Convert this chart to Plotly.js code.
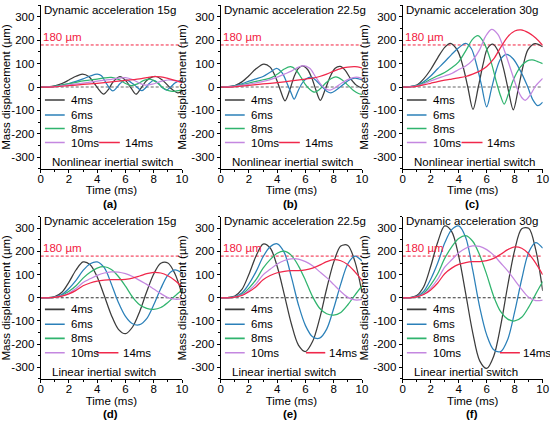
<!DOCTYPE html>
<html>
<head>
<meta charset="utf-8">
<script src="https://cdn.plot.ly/plotly-3.0.1.min.js"></script>
<style>html,body{margin:0;padding:0;background:#fff;}#chart{width:550px;height:425px;}</style>
</head>
<body>
<div id="chart"></div>
<script>
// ---------- labels ----------
const seriesNames = ['4ms', '6ms', '8ms', '10ms', '14ms'];
const panelTitles = ['Dynamic acceleration 15g', 'Dynamic acceleration 22.5g', 'Dynamic acceleration 30g',
                     'Dynamic acceleration 15g', 'Dynamic acceleration 22.5g', 'Dynamic acceleration 30g'];
const panelLetters = ['(a)', '(b)', '(c)', '(d)', '(e)', '(f)'];
const switchLabels = ['Nonlinear inertial switch', 'Nonlinear inertial switch', 'Nonlinear inertial switch',
                      'Linear inertial switch', 'Linear inertial switch', 'Linear inertial switch'];
const thresholdValue = 180;
const thresholdLabel = '180 µm';
const xTicks = [0, 2, 4, 6, 8, 10];
const yTicks = [-300, -200, -100, 0, 100, 200, 300];

// ---------- (a) nonlinear, 15g ----------
const a4_t = [0,0.5,1,1.5,2,2.5,2.95,3.4,3.8,4.1,4.45,4.8,5.1,5.6,6.05,6.4,6.75,7.1,7.5,8.15,8.7,9.2,9.7,10];
const a4_v = [0,1,5,15,30,46,55,45,15,-10,-31,-10,20,44,25,-5,-31,-5,28,45,25,-5,-25,-20];
const a6_t = [0,0.5,1,1.5,2,2.5,3,3.5,4,4.3,4.6,4.85,5.1,5.35,5.6,6.05,6.5,6.8,7.15,7.45,7.7,8.0,8.35,8.6,8.9,9.2,9.5,9.8,10];
const a6_v = [0,1,3,8,15,24,35,47,55,48,20,-3,-17,-5,14,30,15,0,-16,-2,16,28,15,-2,-13,0,17,26,25];
const a8_t = [0,0.5,1,1.5,2,2.5,3,3.5,4,4.5,5,5.5,6,6.4,6.8,7.3,7.8,8.2,8.7,9.2,9.6,10];
const a8_v = [0,0.5,3,8,14,20,26,30,34,39,41,33,15,6,12,28,33,20,-5,-18,-17,-12];
const a10_t = [0,0.5,1,1.5,2,2.5,3,3.5,4,4.5,5,5.5,6,6.5,7,7.4,7.9,8.5,9,9.5,10];
const a10_v = [0,0.5,2,5,9,13,17,21,25,29,33,38,40,32,16,8,12,24,30,27,18];
const a14_t = [0,1,2,3,4,5,6,7,7.5,8,8.5,9,9.5,10];
const a14_v = [0,1,6,11,16,22,28,35,40,44,43,37,28,20];

// ---------- (b) nonlinear, 22.5g ----------
const b4_t = [0,0.5,1,1.5,2,2.5,3.05,3.5,3.9,4.2,4.55,4.9,5.2,5.5,5.8,6.15,6.5,6.75,7.05,7.4,7.75,8.1,8.45,8.8,9.2,9.6,10];
const b4_v = [0,1,6,22,48,78,98,85,40,-10,-59,-10,45,80,91,75,30,-15,-57,-10,45,80,88,72,35,8,-5];
const b6_t = [0,0.5,1,1.5,2,2.5,3,3.5,3.96,4.35,4.7,4.95,5.2,5.45,5.75,6.05,6.4,6.8,7.2,7.5,7.8,8.2,8.7,9.1,9.5,10];
const b6_v = [0,1,5,14,25,35,45,63,80,60,15,-20,-52,-20,15,35,42,25,0,-18,-25,-12,12,30,38,30];
const b8_t = [0,0.5,1,1.5,2,2.5,3,3.5,4,4.5,4.95,5.3,5.7,6.0,6.3,6.65,7.0,7.4,7.8,8.15,8.6,9.0,9.4,9.75,10];
const b8_v = [0,1,4,10,17,24,31,38,55,77,87,75,40,10,-10,-22,-10,15,35,43,30,8,-15,-28,-32];
const b10_t = [0,0.5,1,1.5,2,2.5,3,3.5,4,4.5,5,5.4,5.85,6.3,6.7,7.1,7.5,7.75,8.1,8.6,9.1,9.6,10];
const b10_v = [0,1,3,7,12,18,24,32,42,55,68,82,92,80,45,10,-10,-13,-3,18,35,42,37];
const b14_t = [0,1,2,3,4,5,6,6.5,7,7.5,8,8.5,9,9.5,10];
const b14_v = [0,1,7,13,19,26,34,38,45,55,68,79,85,87,82];

// ---------- (c) nonlinear, 30g ----------
const c4_t = [0,0.5,1,1.5,2,2.5,3,3.4,3.9,4.3,4.65,5.02,5.4,5.75,6.05,6.44,6.85,7.2,7.55,7.9,8.25,8.6,8.95,9.45,10];
const c4_v = [0,1,8,35,75,125,170,187,158,90,0,-96,0,100,165,184,150,80,-15,-98,-10,90,160,186,172];
const c6_t = [0,0.5,1,1.5,2,2.5,3,3.5,4,4.5,4.9,5.3,5.62,6.0,6.35,6.7,7.0,7.42,7.9,8.4,8.9,9.3,9.65,10];
const c6_v = [0,1,6,22,47,78,108,140,168,187,165,90,10,-85,-5,75,120,140,120,70,5,-55,-80,-65];
const c8_t = [0,0.5,1,1.5,2,2.5,3,3.5,4,4.5,5,5.37,5.8,6.3,6.7,7.0,7.25,7.55,7.9,8.4,8.9,9.25,9.6,10];
const c8_v = [0,1,5,17,33,48,62,82,108,155,205,220,190,110,20,-40,-73,-30,30,85,112,116,110,100];
const c10_t = [0,0.5,1,1.5,2,2.5,3,3.5,4,4.5,5,5.5,5.9,6.35,6.8,7.3,7.8,8.2,8.5,8.75,9.1,9.5,10];
const c10_v = [0,1,4,13,26,37,47,58,75,90,115,160,215,247,225,150,60,-10,-45,-57,-35,5,37];
const c14_t = [0,0.5,1,1.5,2,2.5,3,3.5,4,4.5,5,5.5,6,6.5,7,7.5,8,8.45,9,9.5,10];
const c14_v = [0,0,3,9,16,23,29,34,39,45,55,68,88,120,170,215,240,245,232,210,178];

// ---------- linear panels share one time grid ----------
const tLin = [0,0.5,1,1.5,2,2.5,3,3.5,4,4.5,5,5.5,6,6.5,7,7.5,8,8.5,9,9.5,10];
// (d) linear, 15g
const d4 = [0,0.5,5,24,68,120,155,143,90,9,-75,-136,-155,-126,-60,26,103,149,150,104,15];
const d6 = [0,0,3,14,40,75,118,147,155,130,60,-20,-80,-112,-116,-90,-30,40,98,120,106];
const d8 = [0,0,2,10,28,52,85,110,128,134,122,92,50,3,-30,-46,-50,-42,-20,8,34];
const d10 = [0,0,2,8,21,40,66,82,97,107,112,111,104,92,75,58,38,18,1,-6,-5];
const d14 = [0,0,2,7,17,32,52,64,72,76,78,78,80,85,94,104,110,107,95,75,47];
// (e) linear, 22.5g
const e4 = [0,1,8,36,102,180,232,215,135,14,-112,-204,-232,-189,-90,39,154,224,226,156,22];
const e6 = [0,0,5,21,60,113,177,220,233,195,90,-30,-120,-168,-174,-135,-45,60,147,180,159];
const e8 = [0,0,3,15,42,78,128,165,192,201,183,138,75,5,-45,-69,-75,-63,-30,12,51];
const e10 = [0,0,3,12,32,60,99,123,146,161,168,167,156,138,113,87,57,27,2,-9,-8];
const e14 = [0,0,3,10,26,48,78,96,108,114,117,117,120,128,141,156,165,160,143,112,75];
// (f) linear, 30g
const f4 = [0,1,10,48,136,240,310,286,180,18,-150,-272,-305,-252,-120,52,206,298,300,208,30];
const f6 = [0,0,6,28,80,150,236,294,310,260,120,-40,-160,-224,-232,-180,-60,80,196,238,214];
const f8 = [0,0,4,20,56,104,170,220,256,268,244,184,100,6,-60,-92,-100,-84,-40,16,70];
const f10 = [0,0,4,16,42,80,132,164,194,214,224,222,208,184,150,116,76,36,2,-12,-10];
const f14 = [0,0,4,14,34,64,104,128,144,152,156,156,160,170,188,208,220,214,190,150,100];

// ---------- styling ----------
const colors = ['#3c3c3c', '#2b80b9', '#30b46e', '#c487e0', '#f0284b'];
const redC = '#f2203f';
const FONT = 'Liberation Sans, Arial, Helvetica, sans-serif';

const panelSeries = [
  [[a4_t,a4_v],[a6_t,a6_v],[a8_t,a8_v],[a10_t,a10_v],[a14_t,a14_v]],
  [[b4_t,b4_v],[b6_t,b6_v],[b8_t,b8_v],[b10_t,b10_v],[b14_t,b14_v]],
  [[c4_t,c4_v],[c6_t,c6_v],[c8_t,c8_v],[c10_t,c10_v],[c14_t,c14_v]],
  [[tLin,d4],[tLin,d6],[tLin,d8],[tLin,d10],[tLin,d14]],
  [[tLin,e4],[tLin,e6],[tLin,e8],[tLin,e10],[tLin,e14]],
  [[tLin,f4],[tLin,f6],[tLin,f8],[tLin,f10],[tLin,f14]]
];

const W = 550, H = 425;
const xDom = [[40.7,182],[220.7,362],[402.7,542.7]];
const yDom = [[5.3,168.7],[216.7,378.9]];
const letterX = [110, 290, 471.7];
const letterY = [204, 414];

// legend placement (data coords)
const legRowsTop = [-56, -120, -178, -238];
const legRowsBot = [-50, -114, -175, -237];
const leg14Top = [[4.1,5.6,5.8],[4.1,5.6,5.8],[4.2,5.7,5.9]];
const leg14Bot = [[3.95,5.5,5.7],[6.04,7.4,7.5],[6.95,8.37,8.45]];

const traces = [];
const layout = {
  width: W, height: H,
  margin: {l:0, r:0, t:0, b:0},
  paper_bgcolor: '#fff', plot_bgcolor: 'rgba(0,0,0,0)',
  font: {family: FONT, size: 11, color: '#000'},
  showlegend: false,
  shapes: [], annotations: []
};

for (let p = 0; p < 6; p++) {
  const row = p < 3 ? 0 : 1, col = p % 3;
  const sfx = p === 0 ? '' : String(p + 1);
  const xr = 'x' + sfx, yr = 'y' + sfx;
  panelSeries[p].forEach((s, k) => {
    traces.push({
      x: s[0], y: s[1], xaxis: xr, yaxis: yr, type: 'scatter', mode: 'lines',
      name: seriesNames[k], hoverinfo: 'skip',
      line: {color: colors[k], width: 1.25, shape: 'spline', smoothing: 0.9}
    });
  });
  layout['xaxis' + sfx] = {
    domain: [xDom[col][0] / W, xDom[col][1] / W], anchor: yr,
    range: [0, 10], tickvals: xTicks, ticktext: xTicks.map(String),
    showline: true, linecolor: '#000', linewidth: 1, mirror: false,
    ticks: 'outside', ticklen: 3, tickwidth: 1, tickcolor: '#000',
    minor: {dtick: 1, ticks: 'outside', ticklen: 2, tickcolor: '#000', showgrid: false},
    showgrid: false, zeroline: false, ticklabelstandoff: -4,
    tickfont: {family: FONT, size: 11.5, color: '#000'},
    title: {text: 'Time (ms)', font: {family: FONT, size: 11.5, color: '#000'}, standoff: 0}
  };
  layout['yaxis' + sfx] = {
    domain: [1 - yDom[row][1] / H, 1 - yDom[row][0] / H], anchor: xr,
    range: [-350, 350], tickvals: yTicks, ticktext: yTicks.map(String),
    showline: true, linecolor: '#000', linewidth: 1, mirror: false,
    ticks: 'outside', ticklen: 3, tickwidth: 1, tickcolor: '#000',
    minor: {dtick: 50, ticks: 'outside', ticklen: 2, tickcolor: '#000', showgrid: false},
    showgrid: false, zeroline: false,
    tickfont: {family: FONT, size: 11.5, color: '#000'},
    title: {text: 'Mass displacement (µm)', font: {family: FONT, size: 11.5, color: '#000'}, standoff: 2}
  };
  // threshold and zero reference lines
  layout.shapes.push({type:'line', xref:xr, yref:yr, x0:0, x1:10, y0:thresholdValue, y1:thresholdValue,
                      line:{color:redC, width:1, dash:'3px,2px'}, layer:'below'});
  layout.shapes.push({type:'line', xref:xr, yref:yr, x0:0, x1:10, y0:0, y1:0,
                      line:{color: row === 0 ? '#666' : '#333', width:1.1, dash:'3px,2px'}, layer:'below'});
  // legend samples
  const rows = row === 0 ? legRowsTop : legRowsBot;
  for (let k = 0; k < 4; k++) {
    layout.shapes.push({type:'line', xref:xr, yref:yr, x0:0.3, x1:1.7, y0:rows[k], y1:rows[k],
                        line:{color:colors[k], width:1.6}});
    layout.annotations.push({xref:xr, yref:yr, x:2.0, y:rows[k], text:seriesNames[k], showarrow:false,
                             xanchor:'left', yanchor:'middle', font:{family:FONT, size:11.5, color:'#000'}});
  }
  const l14 = row === 0 ? leg14Top[col] : leg14Bot[col];
  layout.shapes.push({type:'line', xref:xr, yref:yr, x0:l14[0], x1:l14[1], y0:rows[3], y1:rows[3],
                      line:{color:colors[4], width:1.6}});
  layout.annotations.push({xref:xr, yref:yr, x:l14[2], y:rows[3], text:seriesNames[4], showarrow:false,
                           xanchor:'left', yanchor:'middle', font:{family:FONT, size:11.5, color:'#000'}});
  // titles and labels inside panel
  layout.annotations.push({xref:xr, yref:yr, x:0.1, y:330, text:panelTitles[p], showarrow:false,
                           xanchor:'left', yanchor:'middle', font:{family:FONT, size:11.5, color:'#000'}});
  layout.annotations.push({xref:xr, yref:yr, x:0, y:216, text:thresholdLabel, showarrow:false,
                           xanchor:'left', yanchor:'middle', font:{family:FONT, size:11.5, color:redC}});
  layout.annotations.push({xref:xr, yref:yr, x:0.65, y:-321, text:switchLabels[p], showarrow:false,
                           xanchor:'left', yanchor:'middle', font:{family:FONT, size:11.5, color:'#000'}});
  layout.annotations.push({xref:'paper', yref:'paper', x:letterX[col] / W, y:1 - letterY[row] / H,
                           text:'<b>' + panelLetters[p] + '</b>', showarrow:false,
                           xanchor:'center', yanchor:'middle', font:{family:FONT, size:11.5, color:'#000'}});
}

Plotly.newPlot('chart', traces, layout, {staticPlot: true, displayModeBar: false});
</script>
</body>
</html>
